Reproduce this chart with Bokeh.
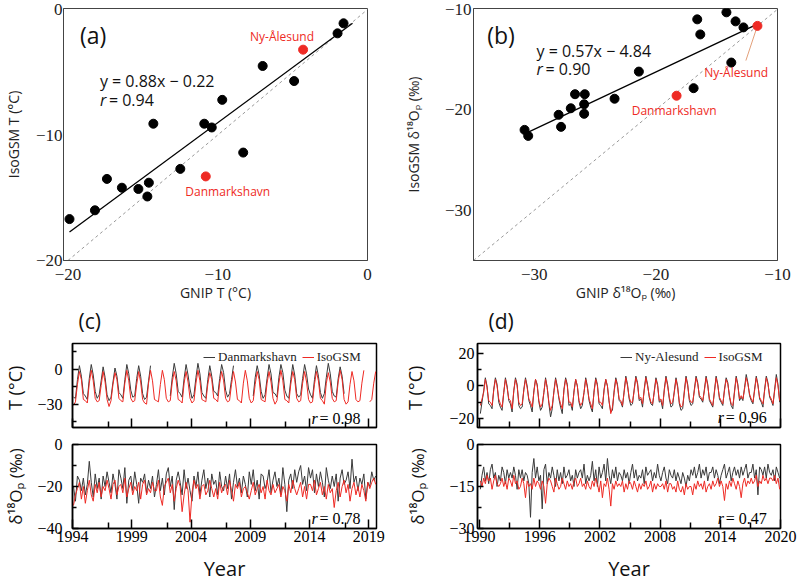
import math
from bokeh.plotting import figure
from bokeh.models import Range1d, FixedTicker, Label, Legend, LegendItem, Title
from bokeh.layouts import row, column
from bokeh.embed import file_html
from bokeh.resources import INLINE

SANS = "Open Sans"
SERIF = "Liberation Serif"
RED = "#ee2a24"
DARK = "#3a3a3a"

# ---------------- panel (a): temperature scatter ----------------
a_gnip = [-19.9, -18.2, -17.4, -16.4, -15.3, -14.6, -14.7, -14.3, -12.5, -10.9, -10.4, -9.7, -8.3, -7.0, -4.9, -2.0, -1.6]
a_iso = [-16.7, -16.0, -13.5, -14.2, -14.3, -13.8, -14.9, -9.1, -12.7, -9.1, -9.4, -7.2, -11.4, -4.5, -5.7, -1.9, -1.1]
a_red_names = ["Danmarkshavn", "Ny-Ålesund"]
a_red_gnip = [-10.8, -4.3]
a_red_iso = [-13.3, -3.2]
a_slope, a_icpt = 0.88, -0.22
a_fit_x = [-19.9, -1.0]
a_diag = [-20, 0]
a_ticks = [-20, -10, 0]

# ---------------- panel (b): d18O scatter ----------------
b_gnip = [-30.8, -30.5, -28.0, -27.8, -27.0, -26.65, -25.85, -25.9, -25.9, -23.4, -21.4, -16.9, -16.6, -16.35, -14.2, -13.8, -13.45, -12.8]
b_iso = [-22.0, -22.6, -20.5, -21.7, -19.85, -18.45, -18.45, -19.45, -20.4, -18.9, -16.2, -17.85, -11.0, -12.5, -10.3, -15.3, -11.2, -11.8]
b_red_names = ["Danmarkshavn", "Ny-Ålesund"]
b_red_gnip = [-18.3, -11.65]
b_red_iso = [-18.6, -11.65]
b_slope, b_icpt = 0.57, -4.84
b_fit_x = [-30.8, -12.0]
b_diag = [-35, -10]
b_ticks = [-30, -20, -10]

# ---------------- panel (c): Danmarkshavn, bimonthly values per year (1994-) ----------------
c_start = 1994
c_T_obs = [
    [-24, -25, -9, 3, -6, -21], [-23, -26, -8, 4, -5, -19], [-25, -22, -10, 2, -7, -22],
    [-27, -24, -11, 1, -6, -20], [-22, -25, -9, 4, -4, -18], [-24, -23, -8, 3, -6, -21],
    [-26, -24, -10, 3, None, None], [None, None, None, None, None, None],
    [None, -23, -7, 5, -4, -19], [-21, -24, -8, 4, -5, -17], [-25, -22, -7, 5, -4, -20],
    [-23, -25, -9, 3, -6, -19], [-20, -23, -8, 4, -3, -18], [-24, -21, -9, 3, None, None],
    [None, None, None, None, None, None], [None, -23, -7, 3, -5, -19], [-25, -22, -8, 4, -4, -20],
    [-21, -24, -7, 4, -3, -18], [-23, -25, -9, 4, -5, -21], [-24, -22, -8, 4, -4, -17],
    [-22, -25, -9, 3, -6, -20], [-25, -21, -7, 5, -4, -19], [-23, -24, -8, 2, -6, -21],
    [None, None, None, None, None, None],
]
c_T_mod = [
    [-31, -28, -13, -2, -9, -26], [-27, -29, -12, -1, -10, -25], [-28, -27, -14, -2, -11, -26],
    [-32, -27, -13, -3, -9, -25], [-27, -28, -12, -1, -10, -25], [-28, -27, -13, -2, -11, -26],
    [-29, -30, -12, -1, -10, -26], [-27, -28, -13, -1, -9, -25], [-28, -27, -11, -2, -10, -26],
    [-27, -29, -12, -2, -11, -25], [-29, -27, -12, -1, -10, -26], [-27, -28, -13, -3, -9, -25],
    [-26, -28, -12, -2, -10, -25], [-28, -27, -13, -2, -11, -26], [-27, -29, -12, -1, -10, -25],
    [-29, -27, -13, -2, -9, -26], [-27, -28, -12, -2, -11, -25], [-30, -27, -12, -1, -10, -26],
    [-27, -29, -13, -2, -9, -25], [-28, -27, -12, -2, -11, -26], [-29, -28, -13, -2, -10, -25],
    [-27, -30, -12, -3, -11, -25], [-28, -27, -11, -1, -9, -26], [-30, -28, -13, -2, -10, -26],
    [-28, -27, -12, -1, None, None], [-28, -26, -12, -2],
]
c_O_obs = [
    [-20, -27, -15, -17, -22, -16], [-24, -19, -8, -18, -25, -14], [-21, -16, -26, -15, -20, -13],
    [-18, -23, -14, -19, -26, -12], [-16, -21, -11, -28, -17, -15], [-22, -13, -19, -28, -16, -18],
    [-14, -23, -17, -21, -15, -25], [-19, -12, -22, -16, -24, -14], [-11, -20, -15, -31, -17, -13],
    [-18, -24, -12, -21, -16, -22], [-27, -15, -20, -13, -24, -17], [-12, -21, -16, -25, -14, -19],
    [-17, -24, -13, -20, -22, -15], [-21, -14, -26, -18, -12, -20], [-16, -23, -15, -19, -25, -13],
    [-19, -12, -22, -17, -26, -14], [-15, -21, -18, -12, -23, -17], [-13, -20, -16, -24, -11, -19],
    [-32, -17, -14, -21, -12, -18], [-13, -10, -19, -15, -22, -11], [-16, -12, -23, -14, -20, -13],
    [-18, -25, -11, -17, -21, -15], [-20, -14, -27, -16, -12, -19], [-17, -13, -21, -7, -18, -15],
    [-22, -16, -19, -14, -26, -18], [-20, -13, -17, -15],
]
c_O_mod = [
    [-29, -24, -21, -18, -26, -20], [-28, -22, -17, -24, -27, -19], [-23, -18, -25, -20, -22, -17],
    [-21, -26, -19, -17, -24, -20], [-19, -23, -16, -25, -21, -18], [-24, -20, -22, -18, -26, -19],
    [-17, -24, -21, -23, -18, -22], [-22, -17, -25, -29, -20, -18], [-16, -23, -19, -27, -21, -17],
    [-20, -32, -24, -18, -22, -37], [-23, -17, -21, -19, -26, -20], [-19, -24, -22, -17, -21, -25],
    [-21, -26, -18, -23, -20, -19], [-24, -17, -22, -27, -19, -21], [-18, -25, -21, -20, -23, -26],
    [-22, -18, -24, -21, -19, -23], [-20, -26, -17, -22, -24, -19], [-23, -21, -19, -25, -20, -22],
    [-27, -19, -23, -17, -21, -24], [-21, -18, -25, -20, -26, -19], [-19, -22, -17, -24, -21, -18],
    [-24, -20, -26, -19, -23, -21], [-30, -22, -18, -25, -20, -17], [-23, -19, -27, -21, -18, -24],
    [-20, -25, -19, -22, -27, -18], [-21, -18, -16, -19],
]
c_year_ticks = [1994, 1999, 2004, 2009, 2014, 2019]
c_year_minor = [1997, 2002, 2007, 2012, 2017]
c_r = ["0.98", "0.78"]

# ---------------- panel (d): Ny-Alesund, bimonthly values per year (1990-) ----------------
d_start = 1990
d_T_obs = [
    [-17, -10, -3, 5, 0, -11], [-12, -14, -2, 5, 1, -10], [-13, -15, -4, 5, 0, -9],
    [-11, -16, -3, 5, 1, -12], [-14, -13, -2, 5, 0, -9], [-12, -16, -3, 4, 1, -10],
    [-15, -13, -4, 5, -1, -11], [-19, -14, -3, 5, 0, -8], [-13, -17, -2, 5, 1, -12],
    [-11, -15, -3, 4, 0, -10], [-14, -12, -4, 5, 0, -9], [-13, -16, -3, 5, 1, -11],
    [-12, -14, -2, 4, 0, -10], [-16, -15, -3, 5, 1, -9], [-10, -13, -3, 6, 1, -8],
    [-12, -11, -2, 6, 2, -9], [-8, -13, -2, 6, 1, -7], [-11, -12, -3, 5, 1, -10],
    [-9, -14, -2, 6, 1, -8], [-13, -12, -3, 5, 0, -11], [-15, -14, -3, 6, 1, -9],
    [-12, -11, -2, 6, 2, -7], [-8, -10, -2, 6, 1, -9], [-11, -13, -3, 6, 1, -8],
    [-10, -12, -2, 5, 2, -7], [-12, -14, -3, 6, 1, -9], [-7, -9, -1, 7, 2, -6],
    [-9, -11, -2, 6, 1, -8], [-10, -13, -2, 6, 2, -7], [-9, -12, -2, 7, 1, -10],
]
d_T_mod = [
    [-12, -8, -4, 4, -1, -9], [-10, -12, -3, 4, 0, -8], [-11, -13, -4, 4, -1, -8],
    [-9, -14, -3, 4, 0, -10], [-12, -11, -3, 4, -1, -8], [-10, -13, -4, 4, 0, -9],
    [-13, -11, -4, 4, -1, -10], [-15, -12, -4, 4, -1, -7], [-11, -14, -3, 4, 0, -10],
    [-10, -13, -4, 4, 0, -9], [-12, -10, -4, 4, -1, -8], [-11, -14, -4, 4, 0, -10],
    [-10, -12, -3, 4, 0, -9], [-17, -13, -4, 4, 0, -8], [-9, -12, -4, 5, 0, -7],
    [-10, -10, -3, 5, 1, -8], [-7, -11, -3, 5, 0, -6], [-10, -11, -4, 4, 0, -9],
    [-8, -12, -3, 5, 0, -7], [-11, -10, -4, 4, -1, -10], [-13, -12, -4, 5, 0, -8],
    [-10, -10, -3, 5, 1, -6], [-7, -9, -3, 5, 0, -8], [-10, -12, -4, 5, 0, -7],
    [-9, -11, -3, 4, 1, -6], [-11, -12, -4, 5, 0, -8], [-6, -8, -2, 5, 1, -5],
    [-8, -10, -3, 5, 0, -7], [-9, -11, -3, 5, 1, -6], [-8, -11, -3, 5, 0, -9],
]
d_O_obs = [
    [-16, -11, -8, -13, -10, -14], [-9, -7, -12, -10, -15, -11], [-13, -8, -10, -14, -9, -12],
    [-10, -12, -8, -11, -16, -9], [-12, -9, -13, -10, -11, -14], [-26, -10, -5, -12, -8, -13],
    [-11, -23, -9, -7, -14, -10], [-12, -8, -11, -15, -9, -13], [-10, -14, -8, -12, -11, -9],
    [-13, -11, -15, -9, -12, -10], [-9, -12, -7, -14, -11, -13], [-11, -6, -13, -9, -15, -8],
    [-12, -10, -7, -13, -5, -11], [-14, -9, -12, -8, -13, -10], [-11, -13, -9, -12, -10, -14],
    [-10, -7, -12, -9, -13, -11], [-12, -9, -14, -8, -11, -10], [-9, -13, -10, -12, -7, -11],
    [-13, -10, -8, -12, -14, -9], [-11, -12, -9, -13, -10, -12], [-14, -10, -12, -15, -11, -13],
    [-9, -11, -8, -12, -10, -7], [-12, -9, -11, -8, -13, -10], [-10, -8, -12, -9, -11, -14],
    [-11, -9, -7, -12, -10, -8], [-13, -10, -8, -11, -9, -12], [-8, -11, -9, -7, -12, -10],
    [-10, -7, -12, -9, -18, -8], [-9, -11, -8, -12, -7, -10], [-11, -9, -13, -8, -10, -12],
]
d_O_mod = [
    [-13, -15, -12, -14, -11, -13], [-12, -16, -13, -11, -14, -15], [-14, -12, -15, -13, -16, -12],
    [-13, -15, -11, -14, -13, -16], [-15, -12, -14, -19, -13, -15], [-14, -16, -12, -15, -13, -14],
    [-16, -13, -15, -21, -14, -12], [-13, -15, -17, -12, -14, -16], [-15, -12, -14, -16, -13, -15],
    [-14, -16, -13, -12, -15, -14], [-12, -15, -14, -16, -13, -15], [-16, -13, -15, -12, -14, -17],
    [-13, -19, -14, -15, -12, -16], [-22, -14, -16, -13, -15, -14], [-15, -13, -17, -14, -16, -13],
    [-14, -16, -13, -15, -17, -14], [-16, -14, -15, -13, -16, -15], [-13, -17, -14, -16, -14, -15],
    [-15, -14, -16, -13, -17, -14], [-14, -16, -15, -17, -13, -16], [-17, -15, -18, -14, -16, -15],
    [-15, -18, -14, -16, -13, -15], [-14, -16, -13, -17, -15, -14], [-16, -13, -15, -14, -12, -15],
    [-13, -15, -20, -14, -16, -13], [-15, -12, -14, -16, -13, -15], [-19, -14, -12, -15, -13, -14],
    [-12, -14, -13, -11, -15, -13], [-14, -11, -13, -12, -14, -12], [-12, -13, -11, -14, -12, -16],
]
d_year_ticks = [1990, 1996, 2002, 2008, 2014, 2020]
d_year_minor = [1993, 1999, 2005, 2011, 2017]
d_r = ["0.96", "0.47"]


def series(start, rows):
    xs, ys = [], []
    for k, vals in enumerate(rows):
        for i, v in enumerate(vals):
            xs.append(start + k + (2 * i + 1) / 12.0)
            ys.append(float("nan") if v is None else float(v))
    return xs, ys


def scatter_fig(xr, yr, w, h, bl, br, bt, bb, ticks):
    p = figure(width=w, height=h, x_range=Range1d(*xr), y_range=Range1d(*yr),
               output_backend="svg", toolbar_location=None,
               min_border_left=bl, min_border_right=br, min_border_top=bt, min_border_bottom=bb)
    p.grid.visible = False
    p.outline_line_color = "#444444"
    p.outline_line_width = 1
    for ax in (p.xaxis[0], p.yaxis[0]):
        ax.ticker = FixedTicker(ticks=ticks)
        ax.axis_line_color = "#444444"
        ax.major_tick_in = 0
        ax.major_tick_out = 0
        ax.minor_tick_in = 0
        ax.minor_tick_out = 0
        ax.major_label_text_font = SERIF
        ax.major_label_text_font_size = "17px"
        ax.major_label_text_color = "#222222"
        ax.axis_label_text_font = SANS
        ax.axis_label_text_font_size = "14px"
        ax.axis_label_text_font_style = "normal"
        ax.axis_label_text_color = "#222222"
    return p


def add_text(p, x, y, text, size, color="#111111", font=SANS, style="normal", align="left", xoff=0):
    p.add_layout(Label(x=x, y=y, text=text, text_font=font, text_font_size=size,
                       text_color=color, text_font_style=style, text_align=align,
                       text_baseline="middle", x_offset=xoff))


def add_panel_tag(p, text, offset):
    # panel letter of the time-series block below, placed under this figure's x-axis
    p.add_layout(Title(text=text, align="left", offset=offset, standoff=0,
                       text_font=SANS, text_font_size="21px", text_font_style="normal",
                       text_color="#111111"), "below")


# ---- (a)
pa = scatter_fig((-20.3, 0), (-20, 0.08), 400, 335, 58, 33, 8, 75, a_ticks)
pa.xaxis.axis_label = "GNIP T (°C)"
pa.yaxis.axis_label = "IsoGSM T (°C)"
pa.xaxis.major_label_standoff = 8
pa.yaxis.major_label_standoff = 1
pa.xaxis.axis_label_standoff = 0
pa.yaxis.axis_label_standoff = 10
pa.line(a_diag, a_diag, line_color="#999999", line_dash="3 3", line_width=1)
pa.line(a_fit_x, [a_slope * v + a_icpt for v in a_fit_x], line_color="black", line_width=1.3)
pa.scatter(a_gnip, a_iso, marker="circle", size=9, fill_color="black", line_color="black")
pa.scatter(a_red_gnip, a_red_iso, marker="circle", size=9, fill_color=RED, line_color=RED)
add_text(pa, -19.2, -2.0, "(a)", "23px")
add_text(pa, -17.87, -5.66, "y = 0.88x − 0.22", "16px")
add_text(pa, -17.87, -7.25, "r", "16px", style="italic")
add_text(pa, -17.87, -7.25, "= 0.94", "16px", xoff=9)
add_text(pa, -5.71, -2.15, a_red_names[1], "12px", color=RED, align="center")
add_text(pa, -9.33, -14.5, a_red_names[0], "12px", color=RED, align="center")
add_panel_tag(pa, "(c)", 15)

# ---- (b)
pb = scatter_fig((-35, -10), (-35, -9.92), 400, 335, 68, 23, 8, 75, b_ticks)
pb.xaxis.axis_label = "GNIP δ¹⁸Oₚ (‰)"
pb.yaxis.axis_label = "IsoGSM δ¹⁸Oₚ (‰)"
pb.xaxis.major_label_standoff = 8
pb.yaxis.major_label_standoff = 2
pb.xaxis.axis_label_standoff = 0
pb.yaxis.axis_label_standoff = 19
pb.line(b_diag, b_diag, line_color="#999999", line_dash="3 3", line_width=1)
pb.line(b_fit_x, [b_slope * v + b_icpt for v in b_fit_x], line_color="black", line_width=1.3)
pb.line([-12.6, -11.75], [-15.1, -12.0], line_color="#e3a07a", line_width=1)
pb.scatter(b_gnip, b_iso, marker="circle", size=9, fill_color="black", line_color="black")
pb.scatter(b_red_gnip, b_red_iso, marker="circle", size=9, fill_color=RED, line_color=RED)
add_text(pb, -33.87, -12.6, "(b)", "23px")
add_text(pb, -29.82, -14.1, "y = 0.57x − 4.84", "16px")
add_text(pb, -29.82, -15.9, "r", "16px", style="italic")
add_text(pb, -29.82, -15.9, "= 0.90", "16px", xoff=9)
add_text(pb, -13.4, -16.3, b_red_names[1], "12px", color=RED, align="center")
add_text(pb, -18.5, -20.1, b_red_names[0], "12px", color=RED, align="center")
add_panel_tag(pb, "(d)", 15)


def ts_fig(xr, yr, w, h, bl, br, bt, bb, xt, xm, yt, ym, show_x):
    p = figure(width=w, height=h, x_range=Range1d(*xr), y_range=Range1d(*yr),
               output_backend="svg", toolbar_location=None,
               min_border_left=bl, min_border_right=br, min_border_top=bt, min_border_bottom=bb)
    p.grid.visible = False
    p.outline_line_color = "black"
    p.outline_line_width = 1.5
    xa, ya = p.xaxis[0], p.yaxis[0]
    xa.ticker = FixedTicker(ticks=xt, minor_ticks=xm)
    ya.ticker = FixedTicker(ticks=yt, minor_ticks=ym)
    for ax in (xa, ya):
        ax.axis_line_color = "black"
        ax.axis_line_width = 1.5
        ax.major_tick_out = 0
        ax.minor_tick_out = 0
        ax.major_tick_line_width = 1.5
        ax.minor_tick_line_width = 1.5
        ax.major_tick_line_color = "black"
        ax.minor_tick_line_color = "black"
        ax.major_label_text_font = SERIF
        ax.major_label_text_font_size = "16px"
        ax.major_label_text_color = "black"
        ax.axis_label_text_font = SANS
        ax.axis_label_text_font_style = "normal"
        ax.axis_label_text_color = "#111111"
    xa.major_tick_in = 9
    xa.minor_tick_in = 6
    ya.major_tick_in = 6
    ya.minor_tick_in = 4
    if show_x:
        xa.major_label_standoff = 2
        xa.axis_label = "Year"
        xa.axis_label_text_font_size = "20px"
        xa.axis_label_standoff = 10
    else:
        xa.major_label_text_font_size = "1px"
        xa.major_label_text_color = None
        xa.major_label_standoff = 0
    return p


def add_r(p, x, y, val):
    add_text(p, x, y, "r", "16px", color="black", font=SERIF, style="italic")
    add_text(p, x, y, "= " + val, "16px", color="black", font=SERIF, xoff=8)


def add_legend(p, r1, r2, name, loc):
    leg = Legend(items=[LegendItem(label=name, renderers=[r1]), LegendItem(label="IsoGSM", renderers=[r2])],
                 location=loc, orientation="horizontal", background_fill_alpha=0,
                 border_line_alpha=0, padding=0, margin=0, spacing=5, label_standoff=3,
                 glyph_width=12, glyph_height=10, label_text_font=SERIF,
                 label_text_font_size="13px", label_text_color="#222222")
    p.add_layout(leg)


# ---- (c)
pc1 = ts_fig((1994, 2019.65), (-50, 22), 400, 100, 63, 24, 8, 8,
             c_year_ticks, c_year_minor, [-30, 0], [15, -15, -45], False)
pc1.yaxis.axis_label = "T  (°C)"
pc1.yaxis.axis_label_text_font_size = "18px"
pc1.yaxis.major_label_standoff = 10
pc1.yaxis.axis_label_standoff = 7
x, y = series(c_start, c_T_obs)
l1 = pc1.line(x, y, line_color=DARK, line_width=1)
x, y = series(c_start, c_T_mod)
l2 = pc1.line(x, y, line_color=RED, line_width=1)
add_legend(pc1, l1, l2, "Danmarkshavn", (131, 62))
add_r(pc1, 2014.16, -42.3, c_r[0])

pc2 = ts_fig((1994, 2019.65), (-40, 0), 400, 150, 63, 24, 9, 57,
             c_year_ticks, c_year_minor, [-40, -20, 0], [-10, -30], True)
pc2.yaxis.axis_label = "δ¹⁸Oₚ (‰)"
pc2.yaxis.axis_label_text_font_size = "17px"
pc2.yaxis.major_label_standoff = 10
pc2.yaxis.axis_label_standoff = 7
x, y = series(c_start, c_O_obs)
pc2.line(x, y, line_color=DARK, line_width=1)
x, y = series(c_start, c_O_mod)
pc2.line(x, y, line_color=RED, line_width=1)
add_r(pc2, 2014.16, -35.2, c_r[1])

# ---- (d)
pd1 = ts_fig((1989.8, 2020), (-25.5, 26), 400, 100, 68, 20, 8, 8,
             d_year_ticks, d_year_minor, [-20, 0, 20], [10, -10], False)
pd1.yaxis.axis_label = "T  (°C)"
pd1.yaxis.axis_label_text_font_size = "18px"
pd1.yaxis.major_label_standoff = 3
pd1.yaxis.axis_label_standoff = 19
x, y = series(d_start, d_T_obs)
m1 = pd1.line(x, y, line_color=DARK, line_width=1)
x, y = series(d_start, d_T_mod)
m2 = pd1.line(x, y, line_color=RED, line_width=1)
add_legend(pd1, m1, m2, "Ny-Alesund", (143, 62))
add_r(pd1, 2013.74, -19.4, d_r[0])

pd2 = ts_fig((1989.8, 2020), (-30, 0), 400, 150, 68, 20, 9, 57,
             d_year_ticks, d_year_minor, [-30, -15, 0], [-7.5, -22.5], True)
pd2.yaxis.axis_label = "δ¹⁸Oₚ (‰)"
pd2.yaxis.axis_label_text_font_size = "17px"
pd2.yaxis.major_label_standoff = 3
pd2.yaxis.axis_label_standoff = 17
x, y = series(d_start, d_O_obs)
pd2.line(x, y, line_color=DARK, line_width=1)
x, y = series(d_start, d_O_mod)
pd2.line(x, y, line_color=RED, line_width=1)
add_r(pd2, 2013.74, -26.4, d_r[1])

layout = column(row(pa, pb), row(column(pc1, pc2), column(pd1, pd2)))

open("out.html", "w").write(file_html(layout, INLINE))
